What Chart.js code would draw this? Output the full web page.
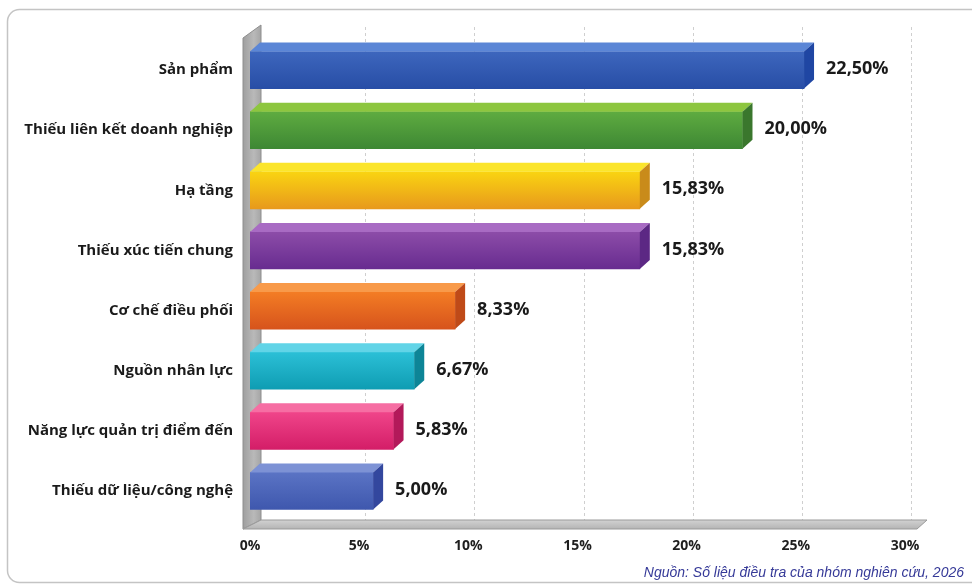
<!DOCTYPE html>
<html><head><meta charset="utf-8">
<script src="https://cdn.jsdelivr.net/npm/chart.js@4/dist/chart.umd.min.js"></script>
<style>html,body{margin:0;padding:0;background:#fff;}#wrap{width:972px;height:586px;position:relative}</style>
</head><body><div id="wrap"><canvas id="c" width="972" height="586"></canvas></div>
<script>
// ---- data ----
const categories = ['Sản phẩm','Thiếu liên kết doanh nghiệp','Hạ tầng','Thiếu xúc tiến chung','Cơ chế điều phối','Nguồn nhân lực','Năng lực quản trị điểm đến','Thiếu dữ liệu/công nghệ'];
const values = [22.50, 20.00, 15.83, 15.83, 8.33, 6.67, 5.83, 5.00];
const tickValues = [0, 5, 10, 15, 20, 25, 30];
const sourceNote = 'Nguồn: Số liệu điều tra của nhóm nghiên cứu, 2026';

// ---- style ----
const palette = [
  {top:'#3d66bd', bot:'#284ea6', lid:'#5b86d6', side:'#1f46a3'},
  {top:'#5eab40', bot:'#3e8834', lid:'#8dc63f', side:'#3a772d'},
  {top:'#f9d312', bot:'#e89a1c', lid:'#fbe52c', side:'#c98b1a'},
  {top:'#8c4ca8', bot:'#682c90', lid:'#a86bc3', side:'#5c2884'},
  {top:'#f37c24', bot:'#d7541c', lid:'#f89a4a', side:'#bf4a18'},
  {top:'#2bbfd6', bot:'#0f9db3', lid:'#62d4e7', side:'#0d8597'},
  {top:'#ef4489', bot:'#d41e68', lid:'#f66ea3', side:'#b3195a'},
  {top:'#5a73c4', bot:'#3f58ae', lid:'#7d92d5', side:'#33479e'}
];
const DX = 10, DY = -9;
const fmt = v => v.toFixed(2).replace('.', ',') + '%';

const scenePlugin = {
  id: 'scene',
  beforeDraw(chart) {
    const c = chart.ctx;
    c.save();
    c.fillStyle = '#fff';
    c.fillRect(0, 0, chart.width, chart.height);
    const x = 7.5, y = 9.5, w = 1000, h = 573, r = 12;
    c.beginPath();
    c.moveTo(x + r, y); c.lineTo(x + w - r, y); c.arcTo(x + w, y, x + w, y + r, r);
    c.lineTo(x + w, y + h - r); c.arcTo(x + w, y + h, x + w - r, y + h, r);
    c.lineTo(x + r, y + h); c.arcTo(x, y + h, x, y + h - r, r);
    c.lineTo(x, y + r); c.arcTo(x, y, x + r, y, r); c.closePath();
    c.strokeStyle = '#c4c4c4'; c.lineWidth = 1.5; c.stroke();
    c.restore();
  },
  beforeDatasetsDraw(chart) {
    const c = chart.ctx, a = chart.chartArea, xs = chart.scales.x2;
    const L = a.left, R = a.right, T = a.top, B = a.bottom;
    c.save();
    c.strokeStyle = '#cfcfcf'; c.lineWidth = 1; c.setLineDash([3, 3]);
    tickValues.forEach(t => {
      if (t === 0) return;
      const px = Math.round(xs.getPixelForValue(t)) + 6.5;
      c.beginPath(); c.moveTo(px, T - 13); c.lineTo(px, B - 1); c.stroke();
    });
    c.setLineDash([]);
    let g = c.createLinearGradient(L - 7, 0, L + 11, 0);
    g.addColorStop(0, '#9f9f9f'); g.addColorStop(0.6, '#b9b9b9'); g.addColorStop(1, '#a5a5a5');
    c.fillStyle = g;
    c.beginPath();
    c.moveTo(L - 7, T - 2); c.lineTo(L + 11, T - 15); c.lineTo(L + 11, B - 1); c.lineTo(L - 7, B + 8); c.closePath();
    c.fill();
    c.strokeStyle = '#8e8e8e'; c.lineWidth = 1; c.stroke();
    g = c.createLinearGradient(0, B - 1, 0, B + 8);
    g.addColorStop(0, '#d2d2d2'); g.addColorStop(1, '#b4b4b4');
    c.fillStyle = g;
    c.beginPath();
    c.moveTo(L + 11, B - 1); c.lineTo(R + 22, B - 1); c.lineTo(R + 12, B + 8); c.lineTo(L - 7, B + 8); c.closePath();
    c.fill();
    c.strokeStyle = '#9a9a9a'; c.stroke();
    c.restore();
  },
  afterDatasetsDraw(chart) {
    const c = chart.ctx;
    const meta = chart.getDatasetMeta(0);
    c.save();
    meta.data.forEach((bar, i) => {
      const p = bar.getProps(['x', 'y', 'base', 'height'], true);
      const top = p.y - p.height / 2, bot = p.y + p.height / 2;
      const col = palette[i];
      c.fillStyle = col.lid;
      c.beginPath();
      c.moveTo(p.base, top); c.lineTo(p.base + DX, top + DY); c.lineTo(p.x + DX, top + DY); c.lineTo(p.x, top); c.closePath();
      c.fill();
      c.fillStyle = col.side;
      c.beginPath();
      c.moveTo(p.x, top); c.lineTo(p.x + DX, top + DY); c.lineTo(p.x + DX, bot + DY); c.lineTo(p.x, bot); c.closePath();
      c.fill();
      c.fillStyle = '#1a1a1a';
      c.font = '700 18px "Open Sans", sans-serif';
      c.textAlign = 'left'; c.textBaseline = 'middle';
      c.fillText(fmt(values[i]), p.x + DX + 12, p.y - 1);
    });
    c.restore();
  },
  afterDraw(chart) {
    const c = chart.ctx;
    c.save();
    c.fillStyle = '#363a98';
    c.font = 'italic 14px "Liberation Sans", Arial, sans-serif';
    c.textAlign = 'right'; c.textBaseline = 'middle';
    c.fillText(sourceNote, 964, 573);
    c.restore();
  }
};

new Chart(document.getElementById('c'), {
  type: 'bar',
  data: {
    labels: categories,
    datasets: [{
      data: values,
      xAxisID: 'x', yAxisID: 'y',
      barThickness: 37,
      borderWidth: 0,
      backgroundColor: (ctx) => {
        const chart = ctx.chart, i = ctx.dataIndex, p = palette[i % palette.length];
        const ys = chart.scales && chart.scales.y;
        if (!chart.chartArea || !ys) return p.top;
        const yc = ys.getPixelForValue(i);
        if (!isFinite(yc)) return p.top;
        const g = chart.ctx.createLinearGradient(0, yc - 18, 0, yc + 18);
        g.addColorStop(0, p.top); g.addColorStop(1, p.bot);
        return g;
      }
    }]
  },
  options: {
    indexAxis: 'y',
    responsive: false,
    animation: false,
    devicePixelRatio: 1,
    layout: { padding: { left: 0, right: 67, top: 40, bottom: 0 } },
    plugins: { legend: { display: false }, tooltip: { enabled: false }, title: { display: false } },
    scales: {
      x: { type: 'linear', axis: 'x', min: 0, max: 26.6, display: false },
      x2: {
        type: 'linear', axis: 'x', position: 'bottom', min: 0, max: 30,
        afterBuildTicks: s => { s.ticks = tickValues.map(v => ({ value: v })); },
        afterFit: s => { s.height = 65; },
        grid: { display: false, drawTicks: false },
        border: { display: false },
        ticks: { color: '#1e1e1e', font: { family: '"Open Sans", sans-serif', size: 14, weight: '700' }, padding: 17, callback: v => v + '%' }
      },
      y: {
        afterFit: s => { s.width = 250; },
        grid: { display: false, drawTicks: false },
        border: { display: false },
        ticks: { color: '#1a1a1a', font: { family: '"Open Sans", sans-serif', size: 15, weight: '700' }, padding: 17 }
      }
    }
  },
  plugins: [scenePlugin]
});
</script>
</body></html>
